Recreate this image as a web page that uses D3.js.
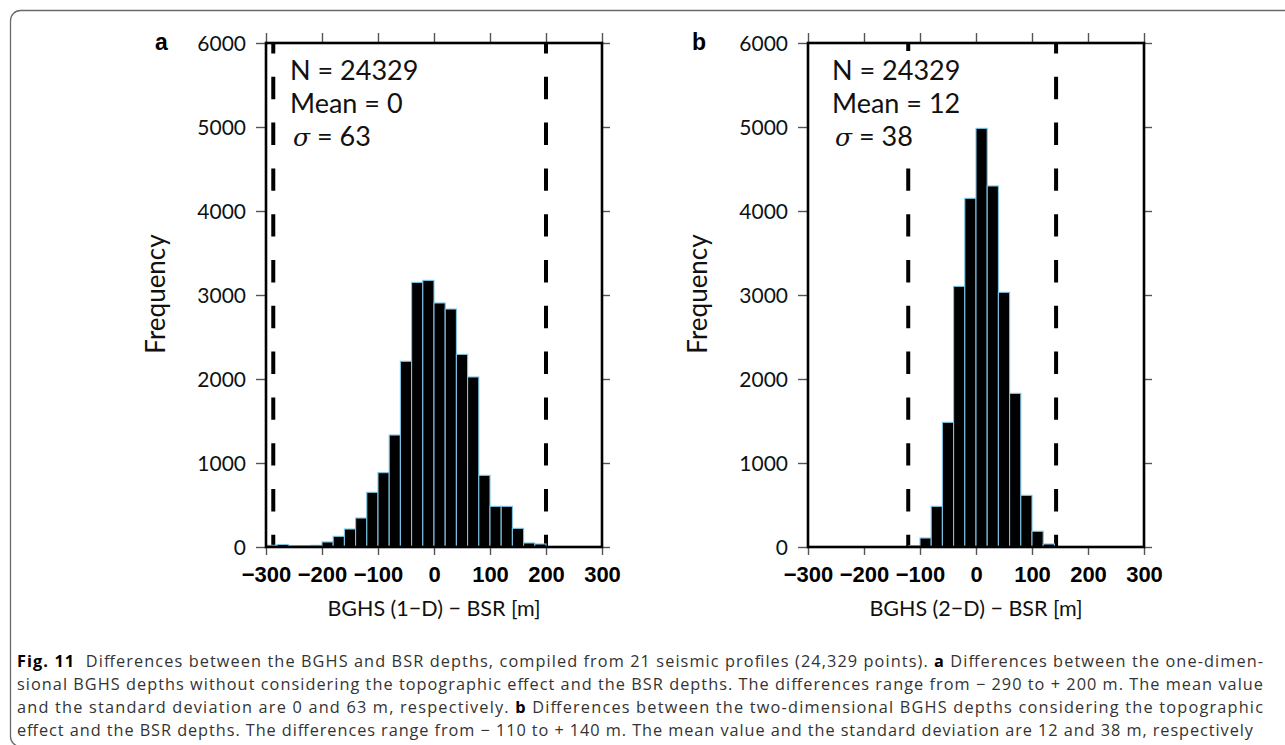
<!DOCTYPE html>
<html>
<head>
<meta charset="utf-8">
<script src="https://cdn.jsdelivr.net/npm/d3@7"></script>
<style>
  html, body { margin: 0; padding: 0; background: #fff; }
  svg { display: block; }
</style>
</head>
<body>
<svg id="chart" width="1285" height="745"></svg>
<script>
// ---------- data ----------
const binWidth = 20;
const binStartA = -300;
const countsA = [20, 30, 15, 15, 20, 60, 127, 214, 345, 651, 885, 1333, 2211, 3150, 3174, 2905, 2833, 2293, 2024, 853, 484, 484, 222, 48, 36];
const binStartB = -120;
const countsB = [15, 107, 484, 1484, 3103, 4151, 4984, 4298, 3032, 1829, 615, 187, 36];
const rangeLinesA = [-287, 200];
const rangeLinesB = [-121, 143];
const xTicks = [-300, -200, -100, 0, 100, 200, 300];
const yTicks = [0, 1000, 2000, 3000, 4000, 5000, 6000];
const panelLabels = ["a", "b"];
const statsA = ["N = 24329", "Mean = 0", "63"];
const statsB = ["N = 24329", "Mean = 12", "38"];
const xTitles = ["BGHS (1\u2212D) \u2212 BSR [m]", "BGHS (2\u2212D) \u2212 BSR [m]"];
const yTitle = "Frequency";
const captionLines = [
  [["b", "Fig. 11"], ["n", "  Differences between the BGHS and BSR depths, compiled from 21 seismic profiles (24,329 points). "], ["b", "a"], ["n", " Differences between the one-dimen-"]],
  [["n", "sional BGHS depths without considering the topographic effect and the BSR depths. The differences range from \u2212 290 to + 200 m. The mean value"]],
  [["n", "and the standard deviation are 0 and 63 m, respectively. "], ["b", "b"], ["n", " Differences between the two-dimensional BGHS depths considering the topographic"]],
  [["n", "effect and the BSR depths. The differences range from \u2212 110 to + 140 m. The mean value and the standard deviation are 12 and 38 m, respectively"]]
];

// ---------- drawing ----------
const svg = d3.select("#chart");
const sans = "Lato, 'Open Sans', sans-serif";
const capFont = "'Open Sans', 'Noto Sans', sans-serif";
const bold = "'Liberation Sans', Arial, sans-serif";

// figure border
svg.append("rect")
  .attr("x", 10.5).attr("y", 10.5)
  .attr("width", 1320).attr("height", 736)
  .attr("rx", 10).attr("ry", 10)
  .attr("fill", "none").attr("stroke", "#6a6a6a").attr("stroke-width", 1.3);

const y = d3.scaleLinear().domain([0, 6000]).range([547, 43]);

function panel(opts) {
  const x = d3.scaleLinear().domain([-300, 300]).range([opts.left, opts.left + 336]);
  const g = svg.append("g");
  const bins = opts.counts.map((c, i) => ({ x0: opts.binStart + i * binWidth, x1: opts.binStart + (i + 1) * binWidth, c }));

  // dashed range lines
  g.selectAll("line.range").data(opts.lines).join("line")
    .attr("class", "range")
    .attr("x1", d => x(d)).attr("x2", d => x(d))
    .attr("y1", y(6000)).attr("y2", y(0))
    .attr("stroke", "#000").attr("stroke-width", 4)
    .attr("stroke-dasharray", "22.4 23.4")
    .attr("stroke-dashoffset", 12);

  // bars
  g.selectAll("rect.bar").data(bins).join("rect")
    .attr("class", "bar")
    .attr("x", d => x(d.x0)).attr("width", d => x(d.x1) - x(d.x0))
    .attr("y", d => y(d.c)).attr("height", d => y(0) - y(d.c))
    .attr("fill", "#000").attr("stroke", "#7cc4e4").attr("stroke-width", 1.1);

  // stats box (white background)
  const tx = x(-300) + 24;
  g.append("rect")
    .attr("x", tx - 5).attr("y", 51)
    .attr("width", opts.boxW).attr("height", 104)
    .attr("fill", "#fff");
  const st = g.append("g").attr("font-family", sans).attr("font-size", 27).attr("fill", "#111");
  st.append("text").attr("x", tx).attr("y", 80).text(opts.stats[0]);
  st.append("text").attr("x", tx).attr("y", 113).text(opts.stats[1]);
  const s3 = st.append("text").attr("x", tx + 3).attr("y", 146);
  s3.append("tspan").attr("font-style", "italic").attr("font-family", "'DejaVu Serif', serif").attr("font-size", 25).text("\u03c3");
  s3.append("tspan").text(" = " + opts.stats[2]);

  // axes ticks
  const tickStyle = sel => {
    sel.select(".domain").remove();
    sel.selectAll(".tick line").attr("stroke", "#555").attr("stroke-width", 1.4);
  };
  const left = g.append("g").attr("transform", `translate(${x(-300)},0)`)
    .call(d3.axisLeft(y).tickValues(yTicks).tickSize(10).tickPadding(10).tickFormat(d3.format("d")));
  tickStyle(left);
  left.selectAll(".tick text").attr("font-family", sans).attr("font-size", 21).attr("fill", "#111").attr("dy", "0.36em");

  const right = g.append("g").attr("transform", `translate(${x(300)},0)`)
    .call(d3.axisRight(y).tickValues(yTicks).tickSize(8).tickFormat(""));
  tickStyle(right);

  const top = g.append("g").attr("transform", `translate(0,${y(6000)})`)
    .call(d3.axisTop(x).tickValues(xTicks).tickSize(10).tickFormat(""));
  tickStyle(top);

  const bottom = g.append("g").attr("transform", `translate(0,${y(0)})`)
    .call(d3.axisBottom(x).tickValues(xTicks).tickSize(8).tickFormat(d => d < 0 ? "\u2212" + Math.abs(d) : String(d)));
  tickStyle(bottom);
  bottom.selectAll(".tick text").attr("font-family", bold).attr("font-weight", "bold")
    .attr("font-size", 22).attr("fill", "#000").attr("y", 35).attr("dy", 0);

  // frame
  g.append("rect")
    .attr("x", x(-300)).attr("y", y(6000))
    .attr("width", x(300) - x(-300)).attr("height", y(0) - y(6000))
    .attr("fill", "none").attr("stroke", "#000").attr("stroke-width", 2.6);

  // panel label
  g.append("text").attr("x", x(-300) - opts.labelOff).attr("y", 50)
    .attr("font-family", bold).attr("font-weight", "bold").attr("font-size", 23).attr("fill", "#000")
    .text(opts.label);

  // y title
  g.append("text")
    .attr("transform", `translate(${x(-300) - 110},294) rotate(-90)`)
    .attr("text-anchor", "middle").attr("dy", "0.35em")
    .attr("font-family", sans).attr("font-size", 26).attr("fill", "#111")
    .text(yTitle);

  // x title
  g.append("text").attr("x", x(0)).attr("y", 616)
    .attr("text-anchor", "middle")
    .attr("font-family", sans).attr("font-size", 21.5).attr("fill", "#111")
    .text(opts.xTitle);
}

panel({ left: 266, counts: countsA, binStart: binStartA, lines: rangeLinesA, stats: statsA, label: panelLabels[0], xTitle: xTitles[0], boxW: 140, labelOff: 111 });
panel({ left: 808, counts: countsB, binStart: binStartB, lines: rangeLinesB, stats: statsB, label: panelLabels[1], xTitle: xTitles[1], boxW: 140, labelOff: 116 });

// caption (justified through word spacing)
const capX0 = 17, capX1 = 1263;
const capBase = [667, 690, 713, 736];
const capWidths = [capX1 - capX0, capX1 - capX0, capX1 - capX0, 1236];
captionLines.forEach((parts, i) => {
  const t = svg.append("text")
    .attr("x", capX0).attr("y", capBase[i])
    .attr("font-family", capFont).attr("font-size", 16.3).attr("fill", "#333")
    .attr("xml:space", "preserve").style("white-space", "pre");
  parts.forEach(([k, s]) => {
    const ts = t.append("tspan").text(s);
    if (k === "b") ts.attr("font-weight", "bold").attr("fill", "#000");
  });
  const natural = t.node().getComputedTextLength();
  const spaces = parts.map(p => p[1]).join("").split(" ").length - 1;
  const extra = (capWidths[i] - natural) / spaces;
  if (extra > -2 && extra < 4) {
    t.attr("word-spacing", extra.toFixed(2));
  } else {
    t.attr("textLength", capWidths[i]).attr("lengthAdjust", "spacing");
  }
});
</script>
</body>
</html>
